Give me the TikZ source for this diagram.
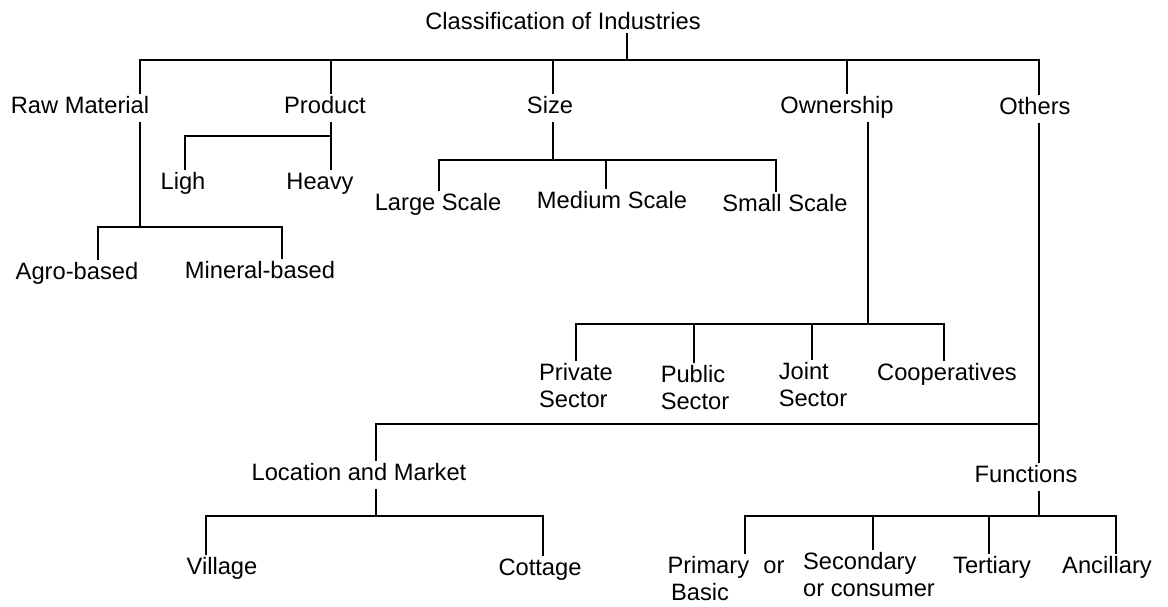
\documentclass[tikz,border=0pt]{standalone}
\usepackage{fontspec}
\setmainfont{Liberation Sans}
\usetikzlibrary{positioning}
\tikzset{
  every picture/.style={x=1pt, y=-1pt, line width=1.6pt},
  lbl/.style={font=\fontsize{23.7}{27}\selectfont, inner sep=3pt, anchor=north, text height=17pt, text depth=5pt},
  lbltwo/.style={font=\fontsize{23.7}{27}\selectfont, inner sep=3pt, anchor=north, align=left},
  title/.style={lbl, text depth=0pt},
  conn/.style={draw=black, line width=1.6pt, line cap=rect},
}
\begin{document}
\begin{tikzpicture}
  \useasboundingbox (0,0) rectangle (1168,606);
  % labels
  \node[title] (root) at (563,9) {Classification of Industries};
  \node[lbl] (raw) at (80,93) {Raw Material};
  \node[lbl] (prod) at (325,93) {Product};
  \node[lbl] (size) at (550,93) {Size};
  \node[lbl] (own) at (837,93) {Ownership};
  \node[lbl] (oth) at (1035,94) {Others};
  \node[lbl] (ligh) at (183,169) {Ligh};
  \node[lbl] (heavy) at (320,169) {Heavy};
  \node[lbl] (agro) at (77,259) {Agro-based};
  \node[lbl] (mineral) at (260,258) {Mineral-based};
  \node[lbl] (large) at (438,190) {Large Scale};
  \node[lbl] (medium) at (612,188) {Medium Scale};
  \node[lbl] (small) at (785,191) {Small Scale};
  \node[lbltwo] (priv) at (576,360) {Private\\Sector};
  \node[lbltwo] (pub) at (695,362) {Public\\Sector};
  \node[lbltwo] (joint) at (813,359) {Joint\\Sector};
  \node[lbl] (coop) at (947,360) {Cooperatives};
  \node[lbl] (loc) at (359,460) {Location and Market};
  \node[lbl] (func) at (1026,462) {Functions};
  \node[lbl] (village) at (222,554) {Village};
  \node[lbl] (cottage) at (540,555) {Cottage};
  \node[lbltwo] (prim) at (726,553) {Primary\hspace{0.6em}or\\\hspace{0.15em}Basic};
  \node[lbltwo] (sec) at (869,549) {Secondary\\or consumer};
  \node[lbl] (tert) at (992,553) {Tertiary};
  \node[lbl] (anc) at (1107,553) {Ancillary};

  % top level
  \coordinate (jRoot) at (627,60);
  \coordinate (jRaw) at (140,60);
  \coordinate (jProd) at (331,60);
  \coordinate (jSize) at (553,60);
  \coordinate (jOwn) at (847,60);
  \coordinate (jOth) at (1039,60);
  \draw[conn] (jRoot |- root.south) -- (jRoot);
  \draw[conn] (jRaw) -- (jOth);
  \draw[conn] (jRaw) -- (jRaw |- raw.north);
  \draw[conn] (jProd) -- (jProd |- prod.north);
  \draw[conn] (jSize) -- (jSize |- size.north);
  \draw[conn] (jOwn) -- (jOwn |- own.north);
  \draw[conn] (jOth) -- (jOth |- oth.north);

  % raw material
  \coordinate (jRawB) at (140,227);
  \coordinate (jAgro) at (98,227);
  \coordinate (jMin) at (282,227);
  \draw[conn] (jRawB |- raw.south) -- (jRawB);
  \draw[conn] (jAgro) -- (jMin);
  \draw[conn] (jAgro) -- (jAgro |- agro.north);
  \draw[conn] (jMin) -- (jMin |- mineral.north);

  % product
  \coordinate (jLigh) at (185,136);
  \coordinate (jHeavy) at (331,136);
  \draw[conn] (jHeavy |- prod.south) -- (jHeavy |- heavy.north);
  \draw[conn] (jLigh |- ligh.north) -- (jLigh) -- (jHeavy);

  % size
  \coordinate (jSizeB) at (553,160);
  \coordinate (jLarge) at (439,160);
  \coordinate (jMed) at (606,160);
  \coordinate (jSmall) at (776,160);
  \draw[conn] (jSizeB |- size.south) -- (jSizeB);
  \draw[conn] (jLarge) -- (jSmall);
  \draw[conn] (jLarge) -- (jLarge |- large.north);
  \draw[conn] (jMed) -- (jMed |- medium.north);
  \draw[conn] (jSmall) -- (jSmall |- small.north);

  % ownership
  \coordinate (jOwnB) at (868,324);
  \coordinate (jPriv) at (576,324);
  \coordinate (jPub) at (694,324);
  \coordinate (jJoint) at (812,324);
  \coordinate (jCoop) at (944,324);
  \draw[conn] (jOwnB |- own.south) -- (jOwnB);
  \draw[conn] (jPriv) -- (jCoop);
  \draw[conn] (jPriv) -- (jPriv |- priv.north);
  \draw[conn] (jPub) -- (jPub |- pub.north);
  \draw[conn] (jJoint) -- (jJoint |- joint.north);
  \draw[conn] (jCoop) -- (jCoop |- coop.north);

  % others
  \coordinate (jOthB) at (1039,424);
  \coordinate (jLoc) at (376,424);
  \draw[conn] (jOthB |- oth.south) -- (jOthB |- func.north);
  \draw[conn] (jLoc |- loc.north) -- (jLoc) -- (jOthB);

  % location and market
  \coordinate (jLocB) at (376,516);
  \coordinate (jVil) at (206,516);
  \coordinate (jCot) at (543,516);
  \draw[conn] (jLocB |- loc.south) -- (jLocB);
  \draw[conn] (jVil) -- (jCot);
  \draw[conn] (jVil) -- (jVil |- village.north);
  \draw[conn] (jCot) -- (jCot |- cottage.north);

  % functions
  \coordinate (jFuncB) at (1039,516);
  \coordinate (jPrim) at (745,516);
  \coordinate (jSec) at (873,516);
  \coordinate (jTer) at (989,516);
  \coordinate (jAnc) at (1116,516);
  \draw[conn] (jFuncB |- func.south) -- (jFuncB);
  \draw[conn] (jPrim) -- (jAnc);
  \draw[conn] (jPrim) -- (jPrim |- prim.north);
  \draw[conn] (jSec) -- (jSec |- sec.north);
  \draw[conn] (jTer) -- (jTer |- tert.north);
  \draw[conn] (jAnc) -- (jAnc |- anc.north);
\end{tikzpicture}
\end{document}
